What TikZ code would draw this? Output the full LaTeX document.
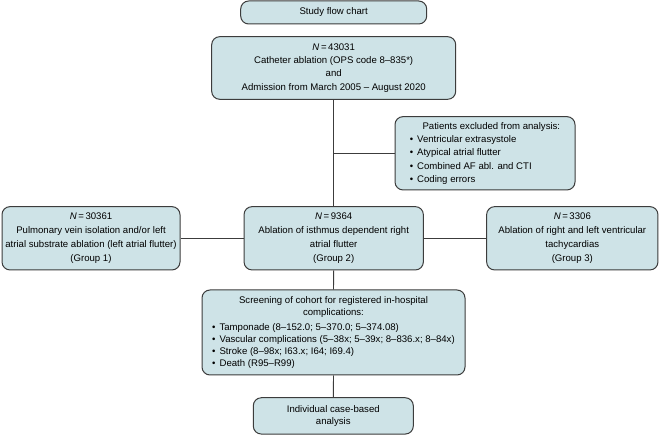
\documentclass[tikz,border=0pt]{standalone}
\usepackage{fontspec}
\setmainfont{Liberation Sans}
\definecolor{boxfill}{RGB}{206,227,231}
\definecolor{edgegray}{RGB}{60,60,60}
\tikzset{
  box/.style={draw=edgegray, fill=boxfill, rounded corners=8pt, line width=1pt,
    align=center, inner sep=0pt, font=\fontsize{9.6}{13.2}\selectfont},
  link/.style={draw=edgegray, line width=0.9pt}
}
\begin{document}
\begin{tikzpicture}[x=1pt,y=-1pt]
\fill[white] (0,0) rectangle (667,435);
\useasboundingbox (0,0) rectangle (667,435);

\node[box, minimum width=186pt, minimum height=23pt] (title) at (333.7,12.5) {Study flow chart};

\node[box, minimum width=244pt, minimum height=62.6pt] (total) at (333.7,68)
  {\textit{N}\,=\,43031\\Catheter ablation (OPS code 8–835*)\\and\\Admission from March 2005 – August 2020};

\node[box, minimum width=180pt, minimum height=73.3pt, font=\fontsize{9.6}{13.4}\selectfont] (excl) at (485,153.3)
  {\begin{tabular}{@{}l@{}}\hspace*{12.7pt}Patients excluded from analysis:\\
   \textbullet\hspace{4pt}Ventricular extrasystole\\
   \textbullet\hspace{4pt}Atypical atrial flutter\\
   \textbullet\hspace{4pt}Combined AF abl. and CTI\\
   \textbullet\hspace{4pt}Coding errors\end{tabular}};

\node[box, minimum width=178pt, minimum height=63.3pt, font=\fontsize{9.6}{14}\selectfont] (g1) at (91,238.3)
  {\textit{N}\,=\,30361\\Pulmonary vein isolation and/or left\\atrial substrate ablation (left atrial flutter)\\(Group 1)};

\node[box, minimum width=179.3pt, minimum height=63.3pt, font=\fontsize{9.6}{14}\selectfont] (g2) at (333.7,238.3)
  {\textit{N}\,=\,9364\\Ablation of isthmus dependent right\\atrial flutter\\(Group 2)};

\node[box, minimum width=171.3pt, minimum height=63.3pt, font=\fontsize{9.6}{14}\selectfont] (g3) at (572.3,238.3)
  {\textit{N}\,=\,3306\\Ablation of right and left ventricular\\tachycardias\\(Group 3)};

\node[box, minimum width=263pt, minimum height=85pt, font=\fontsize{9.6}{11.8}\selectfont] (screen) at (333.5,332.5)
  {\begin{tabular}{@{}l@{}}\multicolumn{1}{@{}c@{}}{Screening of cohort for registered in-hospital}\\
   \multicolumn{1}{@{}c@{}}{complications:}\\[4pt]
   \textbullet\hspace{4pt}Tamponade (8–152.0; 5–370.0; 5–374.08)\\
   \textbullet\hspace{4pt}Vascular complications (5–38x; 5–39x; 8–836.x; 8–84x)\\
   \textbullet\hspace{4pt}Stroke (8–98x; I63.x; I64; I69.4)\\
   \textbullet\hspace{4pt}Death (R95–R99)\end{tabular}};

\node[box, minimum width=160pt, minimum height=36.3pt, font=\fontsize{9.6}{11.8}\selectfont] (final) at (333.3,415.9)
  {Individual case-based\\analysis};

\draw[link] (total.south) -- (g2.north);
\coordinate (j1) at (total.south |- excl.west);
\draw[link] (j1) -- (excl.west);
\draw[link] (g1.east) -- (g2.west);
\draw[link] (g2.east) -- (g3.west);
\draw[link] (g2.south) -- (screen.north);
\draw[link] (screen.south) -- (final.north);
\end{tikzpicture}
\end{document}
